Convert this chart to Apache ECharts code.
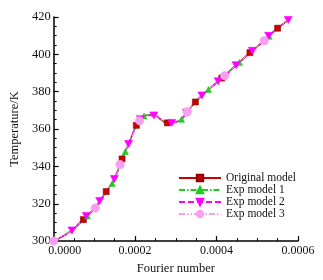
<!DOCTYPE html>
<html><head><meta charset="utf-8">
<script src="https://cdn.jsdelivr.net/npm/echarts@6/dist/echarts.min.js"></script>
<style>html,body{margin:0;padding:0;background:#fff}#c{width:323px;height:280px}</style>
</head><body><div id="c"></div>
<script>
// Shared temperature curve (Fourier number, K)
const curveX = [0,0.00002,0.000045,0.000073,0.000102,0.000129,0.00015,0.000168,0.000184,0.000203,0.000215,0.000225,0.00024,0.000255,0.00027,0.000285,0.0003,0.000314,0.000328,0.000348,0.000364,0.00038,0.000404,0.00042,0.000448,0.000482,0.000517,0.00055,0.000576];
const curveT = [300,302.3,305.7,311.5,317.7,326.5,333.5,344,352,362,365.8,367.3,367.6,366.5,364,363.2,363.8,365.2,369.2,374.5,378,381.2,385.6,388.5,394.2,400.9,407.3,414,418.4];

// Marker positions for each series
const origX = [0.000073,0.000129,0.000168,0.000203,0.000279,0.000348,0.000413,0.000482,0.00055];
const origT = [311.5,326.5,344,362,363.3,374.5,387.3,400.9,414];
const exp1X = [0.000083,0.000144,0.000176,0.000222,0.000314,0.00038,0.000456,0.000529];
const exp1T = [313.5,330.8,348,367,365.2,381.2,395.7,409.7];
const exp2X = [0.000045,0.00008,0.000113,0.000149,0.000184,0.000213,0.000246,0.00029,0.000326,0.000364,0.000404,0.000448,0.000488,0.000528,0.000576];
const exp2T = [305.7,313.5,321.5,333.3,352,365.3,367.3,363.3,368.8,378,385.6,394.2,401.9,409.9,418.4];
const exp3X = [0,0.000102,0.000163,0.000211,0.000328,0.00042,0.000517];
const exp3T = [300,317.7,341,364.5,369.2,388.5,407.3];

const seriesNames = ['Original model','Exp model 1','Exp model 2','Exp model 3'];
const xTicks = ['0.0000','0.0002','0.0004','0.0006'];

function build(mx, mt) {
  const pts = [];
  mx.forEach((x, i) => pts.push({ value: [x, mt[i]] }));
  curveX.forEach((x, i) => {
    if (!mx.some(m => Math.abs(m - x) < 0.000009)) pts.push({ value: [x, curveT[i]], symbol: 'none' });
  });
  pts.sort((a, b) => a.value[0] - b.value[0]);
  return pts;
}

const FONT = '"Liberation Serif","Times New Roman",serif';
const chart = echarts.init(document.getElementById('c'), null, { renderer: 'canvas' });

const styles = [
  { color: '#cc0000', symbol: 'rect', size: 6, line: { width: 1.5, type: 'solid' }, border: '#8a0000' },
  { color: '#22cc22', symbol: 'triangle', size: 6, line: { width: 1.2, type: [6, 2, 1.5, 2] }, border: '#22cc22' },
  { color: '#ff00ff', symbol: 'path://M0,0 L10,0 L5,9 Z', size: [8, 7], line: { width: 1.5, type: [6, 3] }, border: '#ff00ff' },
  { color: '#f7a0f2', symbol: 'circle', size: 8.5, line: { width: 1, type: [6, 2, 1.5, 2, 1.5, 2] }, border: '#f7a0f2' }
];
const markers = [[origX, origT], [exp1X, exp1T], [exp2X, exp2T], [exp3X, exp3T]];

chart.setOption({
  animation: false,
  backgroundColor: '#fff',
  grid: { left: 44, right: 25, top: 17, bottom: 32, containLabel: false },
  legend: {
    left: 178, top: 172, orient: 'vertical', padding: 0,
    itemWidth: 42, itemHeight: 8, itemGap: 0,
    textStyle: { fontFamily: FONT, fontSize: 11.5, color: '#111', lineHeight: 11.5 },
    data: seriesNames
  },
  xAxis: {
    type: 'value', min: 0, max: 0.0006, interval: 0.0002,
    name: 'Fourier number', nameLocation: 'middle', nameGap: 20,
    nameTextStyle: { fontFamily: FONT, fontSize: 12.5, color: '#111' },
    axisLine: { lineStyle: { color: '#000', width: 1.5 } },
    axisTick: { inside: true, length: 5, lineStyle: { color: '#000', width: 1.2 } },
    minorTick: { show: true, splitNumber: 4, length: 3, lineStyle: { color: '#000' } },
    splitLine: { show: false },
    axisLabel: {
      margin: 4, fontFamily: FONT, fontSize: 12, color: '#111',
      formatter: (v) => { const i = Math.round(v / 0.0002); return i === 0 ? '{a|' + xTicks[0] + '}' : xTicks[i]; },
      rich: { a: { fontFamily: FONT, fontSize: 12, color: '#111', padding: [0, 0, 0, 22] } }
    }
  },
  yAxis: {
    type: 'value', min: 300, max: 420, interval: 20,
    name: 'Temperature/K', nameLocation: 'middle', nameGap: 27,
    nameTextStyle: { fontFamily: FONT, fontSize: 12.5, color: '#111' },
    axisLine: { show: true, lineStyle: { color: '#000', width: 1.5 } },
    axisTick: { show: true, inside: true, length: 5, lineStyle: { color: '#000', width: 1.2 } },
    minorTick: { show: true, splitNumber: 4, length: 3, lineStyle: { color: '#000' } },
    splitLine: { show: false },
    axisLabel: { margin: 3, fontFamily: FONT, fontSize: 12.5, color: '#111' }
  },
  series: seriesNames.map((n, k) => ({
    name: n, type: 'line', data: build(markers[k][0], markers[k][1]),
    showAllSymbol: true, smooth: 0.2, clip: false,
    symbol: styles[k].symbol, symbolSize: styles[k].size,
    lineStyle: { color: styles[k].color, width: styles[k].line.width, type: styles[k].line.type },
    itemStyle: { color: styles[k].color, borderColor: styles[k].border, borderWidth: 0.6, opacity: 1 },
    emphasis: { disabled: true }
  }))
});
</script></body></html>
